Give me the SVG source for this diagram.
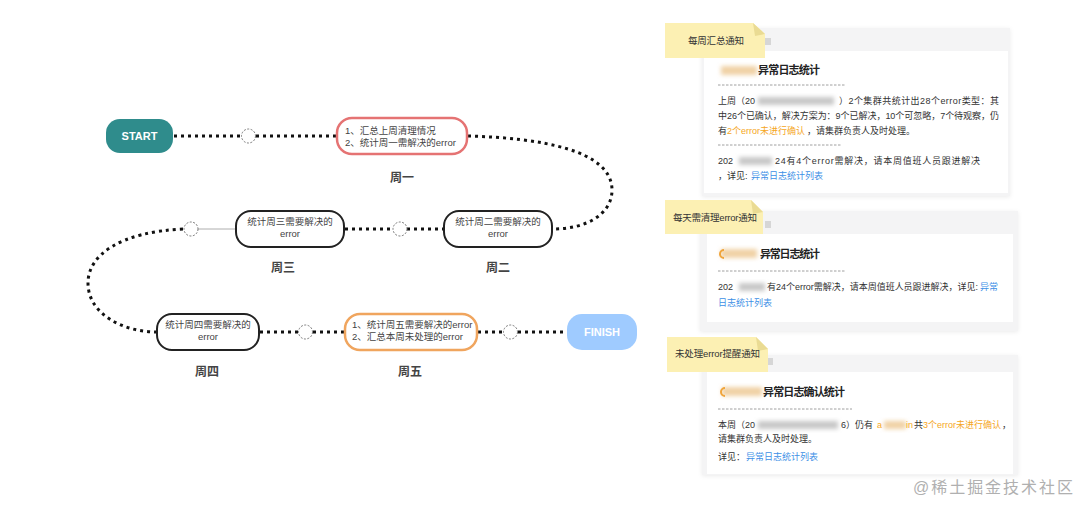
<svg xmlns="http://www.w3.org/2000/svg" width="1080" height="507" viewBox="0 0 1080 507">
<defs>
<filter id="blur" x="-20%" y="-50%" width="140%" height="200%"><feGaussianBlur stdDeviation="2"/></filter>
<filter id="shadow" x="-5%" y="-5%" width="110%" height="115%"><feDropShadow dx="0" dy="1" stdDeviation="2" flood-color="#000" flood-opacity="0.08"/></filter>
<style>
text{font-family:"Liberation Sans","Noto Sans CJK SC",sans-serif}
.dot{fill:none;stroke:#111;stroke-width:3;stroke-dasharray:3 4}
.hub{fill:#fff;stroke:#777;stroke-width:1;stroke-dasharray:2 1.5}
.node{fill:#fff;stroke:#222;stroke-width:2}
.nt{font-size:9.5px;fill:#444}
.wk{font-size:12px;fill:#444;font-weight:bold;text-anchor:middle}
.panel{fill:#f4f4f5;filter:url(#shadow)}
.body{fill:#fff}
.note{fill:#fcf0b3}
.fold{fill:#eadb93}
.nl{font-size:9.5px;fill:#333}
.bt{font-size:9px;fill:#333}
.ttl{font-size:11px;fill:#222;font-weight:bold}
.or{fill:#f5a623}
.bl{fill:#3d8fe6}
.dash{stroke:#888;stroke-width:0.8;stroke-dasharray:2.5 1.5}
.rd{fill:#c8c8c8;filter:url(#blur)}
.rdo{fill:#f0d2a6;filter:url(#blur)}
.ic{fill:#d6d6d6}
</style>
</defs>

<g id="connectors">
<line class="dot" x1="174" y1="136" x2="241" y2="136"/>
<line class="dot" x1="256" y1="136" x2="336" y2="136"/>
<path class="dot" d="M468,136 C540,138 612,150 612,190 C612,215 585,229 553,229"/>
<line class="dot" x1="345" y1="229" x2="392" y2="229"/>
<line class="dot" x1="407" y1="229" x2="443" y2="229"/>
<line x1="198" y1="229" x2="236" y2="229" stroke="#999" stroke-width="0.8"/>
<path class="dot" d="M183,229 C120,232 88,255 88,283 C88,315 125,332 156,332"/>
<line class="dot" x1="260" y1="332" x2="298" y2="332"/>
<line class="dot" x1="313" y1="332" x2="344" y2="332"/>
<line class="dot" x1="478" y1="332" x2="503" y2="332"/>
<line class="dot" x1="518" y1="332" x2="566" y2="332"/>
<circle class="hub" cx="248.5" cy="136" r="7"/>
<circle class="hub" cx="400" cy="229" r="7"/>
<circle class="hub" cx="191" cy="229" r="7"/>
<circle class="hub" cx="305.5" cy="332" r="7"/>
<circle class="hub" cx="510.5" cy="332" r="7"/>
</g>

<g id="start">
<rect x="106" y="119" width="67" height="34" rx="14" fill="#2f8c8c"/>
<text x="139.5" y="140" font-size="11" font-weight="bold" fill="#fff" text-anchor="middle">START</text>
</g>

<g id="mon">
<rect x="337" y="118" width="130" height="36" rx="15" fill="#fff" stroke="#e57373" stroke-width="2.5"/>
<text class="nt" x="345" y="134">1、汇总上周清理情况</text>
<text class="nt" x="345" y="146">2、统计周一需解决的error</text>
<text class="wk" x="402" y="182">周一</text>
</g>

<g id="tue">
<rect class="node" x="444" y="211" width="108" height="36" rx="15"/>
<text class="nt" x="498" y="225" text-anchor="middle">统计周二需要解决的</text>
<text class="nt" x="498" y="237" text-anchor="middle">error</text>
<text class="wk" x="498" y="272">周二</text>
</g>

<g id="wed">
<rect class="node" x="236" y="211" width="108" height="36" rx="15"/>
<text class="nt" x="290" y="225" text-anchor="middle">统计周三需要解决的</text>
<text class="nt" x="290" y="237" text-anchor="middle">error</text>
<text class="wk" x="283" y="272">周三</text>
</g>

<g id="thu">
<rect class="node" x="157" y="314" width="102" height="36" rx="15"/>
<text class="nt" x="208" y="328" text-anchor="middle">统计周四需要解决的</text>
<text class="nt" x="208" y="340" text-anchor="middle">error</text>
<text class="wk" x="207" y="376">周四</text>
</g>

<g id="fri">
<rect x="345" y="314" width="132" height="36" rx="15" fill="#fff" stroke="#f0a55e" stroke-width="2.5"/>
<text class="nt" x="352" y="328">1、统计周五需要解决的error</text>
<text class="nt" x="352" y="340">2、汇总本周未处理的error</text>
<text class="wk" x="410" y="376">周五</text>
</g>

<g id="finish">
<rect x="567" y="314" width="70" height="36" rx="15" fill="#9fcbff"/>
<text x="602" y="336" font-size="11" font-weight="bold" fill="#fff" text-anchor="middle">FINISH</text>
</g>

<g id="card-weekly">
<rect class="panel" x="702" y="28" width="308" height="168"/>
<rect class="body" x="704" y="51" width="304" height="142"/>
<rect class="ic" x="765" y="38" width="6" height="7"/>
<polygon class="note" points="665,23 753,23 765,34 765,58 665,58"/>
<polygon class="fold" points="753,23 765,34 755,36"/>
<text class="nl" x="688" y="43.5" textLength="56">每周汇总通知</text>
<rect class="rdo" x="721" y="66" width="36" height="9"/>
<text class="ttl" x="758" y="74" textLength="62">异常日志统计</text>
<line class="dash" x1="718" y1="85" x2="845" y2="85"/>
<text class="bt" x="718" y="103.5">上周（20</text>
<rect class="rd" x="758" y="97" width="76" height="8"/>
<text class="bt" x="839" y="103.5" textLength="160">）2个集群共统计出28个error类型：其</text>
<text class="bt" x="718" y="118.5" textLength="281">中26个已确认，解决方案为：9个已解决，10个可忽略，7个待观察，仍</text>
<text class="bt" x="718" y="133.5">有</text>
<text class="bt or" x="727" y="133.5">2个error未进行确认</text>
<text class="bt" x="807" y="133.5">，请集群负责人及时处理。</text>
<line class="dash" x1="718" y1="145" x2="842" y2="145"/>
<text class="bt" x="718" y="163.5">202</text>
<rect class="rd" x="739" y="157" width="33" height="8"/>
<text class="bt" x="775" y="163.5" textLength="205">24有4个error需解决，请本周值班人员跟进解决</text>
<text class="bt" x="718" y="178.5">，详见:</text>
<text class="bt bl" x="751" y="178.5">异常日志统计列表</text>
</g>

<g id="card-daily">
<rect class="panel" x="700" y="211" width="318" height="120"/>
<rect class="body" x="707" y="234" width="306" height="88"/>
<rect class="ic" x="765" y="221" width="6" height="7"/>
<polygon class="note" points="665,200 751,200 763,212 763,234 665,234"/>
<polygon class="fold" points="751,200 763,212 753,214"/>
<text class="nl" x="673" y="220.5" textLength="84">每天需清理error通知</text>
<rect class="rdo" x="721" y="249" width="36" height="9"/>
<path d="M724,250 a4,4 0 0 0 0,8" fill="none" stroke="#f0a53c" stroke-width="2"/>
<text class="ttl" x="760" y="258" textLength="60">异常日志统计</text>
<line class="dash" x1="718" y1="271" x2="845" y2="271"/>
<text class="bt" x="718" y="289.5">202</text>
<rect class="rd" x="739" y="283" width="26" height="8"/>
<text class="bt" x="767" y="289.5" textLength="211">有24个error需解决，请本周值班人员跟进解决，详见:</text>
<text class="bt bl" x="980" y="289.5">异常</text>
<text class="bt bl" x="718" y="305.5">日志统计列表</text>
</g>

<g id="card-unhandled">
<rect class="panel" x="702" y="355" width="316" height="120"/>
<rect class="body" x="707" y="372" width="306" height="102"/>
<rect class="ic" x="767" y="358" width="6" height="7"/>
<polygon class="note" points="667,337 756,337 768,349 768,372 667,372"/>
<polygon class="fold" points="756,337 768,349 758,351"/>
<text class="nl" x="675" y="356.5" textLength="85">未处理error提醒通知</text>
<rect class="rdo" x="722" y="387" width="40" height="9"/>
<path d="M725,388 a4,4 0 0 0 0,8" fill="none" stroke="#f0a53c" stroke-width="2"/>
<text class="ttl" x="763" y="396" textLength="82">异常日志确认统计</text>
<line class="dash" x1="718" y1="409" x2="852" y2="409"/>
<text class="bt" x="718" y="427.5">本周（20</text>
<rect class="rd" x="758" y="421" width="80" height="8"/>
<text class="bt" x="841" y="427.5">6）仍有</text>
<text class="bt or" x="877" y="427.5">a</text>
<rect class="rdo" x="884" y="421" width="22" height="8"/>
<text class="bt or" x="906" y="427.5">in</text>
<text class="bt" x="914" y="427.5">共</text>
<text class="bt or" x="923" y="427.5">3个error未进行确认</text>
<text class="bt" x="1002" y="427.5">，</text>
<text class="bt" x="718" y="441.5">请集群负责人及时处理。</text>
<text class="bt" x="718" y="459.5">详见：</text>
<text class="bt bl" x="746" y="459.5">异常日志统计列表</text>
</g>

<text x="913" y="493" font-size="16" fill="#b0b0b0" textLength="160" font-family="Noto Serif CJK SC, Noto Sans CJK SC, serif">@稀土掘金技术社区</text>
</svg>
